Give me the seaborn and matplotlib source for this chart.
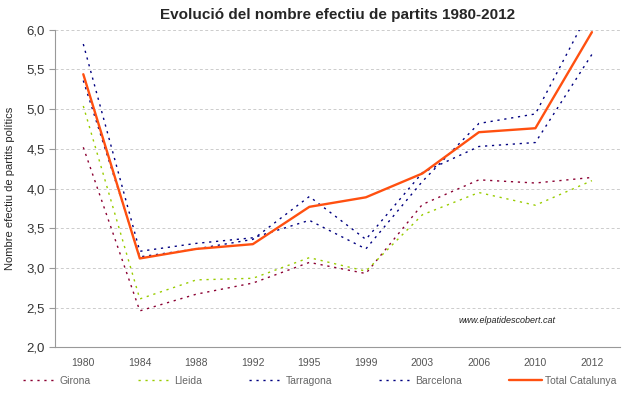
import numpy as np
import pandas as pd
import seaborn as sns
import matplotlib.pyplot as plt

years = ["1980", "1984", "1988", "1992", "1995", "1999", "2003", "2006", "2010", "2012"]
girona = [4.52, 2.46, 2.67, 2.81, 3.07, 2.93, 3.80, 4.11, 4.07, 4.14]
lleida = [5.04, 2.61, 2.85, 2.87, 3.13, 2.96, 3.67, 3.95, 3.79, 4.10]
tarragona = [5.82, 3.21, 3.31, 3.38, 3.60, 3.24, 4.09, 4.82, 4.94, 6.30]
barcelona = [5.36, 3.14, 3.24, 3.36, 3.90, 3.36, 4.20, 4.53, 4.58, 5.69]
total = [5.44, 3.12, 3.24, 3.30, 3.77, 3.89, 4.19, 4.71, 4.76, 5.97]

series = {"Girona": girona, "Lleida": lleida, "Tarragona": tarragona,
          "Barcelona": barcelona, "Total Catalunya": total}
colors = {"Girona": "#8B0032", "Lleida": "#99CC00", "Tarragona": "#000080",
          "Barcelona": "#000080", "Total Catalunya": "#FF5010"}

rows = []
for name, vals in series.items():
    for i, v in enumerate(vals):
        rows.append({"pos": i, "value": v, "serie": name})
df = pd.DataFrame(rows)

sns.set_style("white")
plt.rcParams['font.family'] = ['Liberation Sans', 'DejaVu Sans']

fig = plt.figure(figsize=(6.4, 3.97), dpi=100)
ax = fig.add_axes([0.086, 0.125, 0.883, 0.8])

for name in series:
    sub = df[df.serie == name]
    if name == "Total Catalunya":
        sns.lineplot(data=sub, x="pos", y="value", color=colors[name], lw=1.7, ax=ax, label=name)
    else:
        sns.lineplot(data=sub, x="pos", y="value", color=colors[name], lw=1.0,
                     ax=ax, label=name, dashes=False, linestyle=(0, (1.6, 3.4)))

ax.set_xlim(-0.5, 9.5)
ax.set_ylim(2.0, 6.0)
ax.set_yticks(np.arange(2.0, 6.01, 0.5))
ax.set_yticklabels([f"{t:.1f}".replace(".", ",") for t in np.arange(2.0, 6.01, 0.5)],
                   fontsize=9.5, color="#333333")
ax.set_xticks(range(len(years)))
ax.set_xticklabels(years, fontsize=7.5, color="#555555")
ax.set_xticks(np.arange(-0.5, 10, 1), minor=True)
ax.tick_params(axis="x", which="major", length=0, pad=8)
ax.tick_params(axis="x", which="minor", length=4, color="#999999", direction="out")
ax.tick_params(axis="y", length=4, color="#999999", direction="out", left=True)
ax.grid(axis="y", color="#cccccc", linestyle=(0, (3, 2.5)), lw=0.7)
ax.set_axisbelow(True)
for s in ["top", "right"]:
    ax.spines[s].set_visible(False)
for s in ["left", "bottom"]:
    ax.spines[s].set_color("#999999")
ax.set_xlabel("")
ax.set_ylabel("Nombre efectiu de partits polítics", fontsize=8, labelpad=8)
ax.set_title("Evolució del nombre efectiu de partits 1980-2012", fontsize=11,
             fontweight="bold", pad=8)
ax.text(0.8, 0.085, "www.elpatidescobert.cat", transform=ax.transAxes, fontsize=6.5,
        style="italic", ha="center", va="center", color="#222222")

ax.get_legend().remove()
handles, labels = ax.get_legend_handles_labels()
leg = fig.legend(handles, labels, loc="center", bbox_to_anchor=(0.5, 0.04), ncol=5,
                 frameon=False, fontsize=7.5, handlelength=3.2, columnspacing=4.5,
                 handletextpad=0.3)
for t in leg.get_texts():
    t.set_color("#666666")

fig.savefig("out.png", dpi=100)
